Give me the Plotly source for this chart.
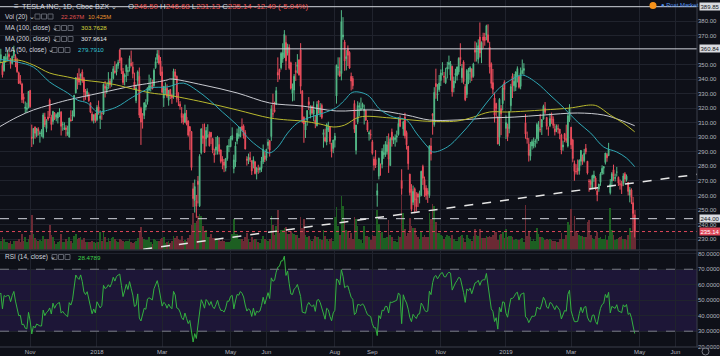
import numpy as np
import pandas as pd
import plotly.graph_objects as go

# ---------------- data (TSLA daily, Cboe BZX) ----------------
OPEN = [
 342.5,335.9,351.2,356.0,353.9,349.6,345.8,353.9,352.95,356.98,353.76,350.91,355.97,355.56,352.69,344.37,338.8,336.7,327.8,319.8,319.2,320.2,
 332.25,300.13,299.5,307.0,301.0,305.5,302.5,302.5,300.1,314.0,306.0,313.99,325.67,313.8,310.9,316.8,313.8,313.25,316.4,317.3,308.56,
 305.4,306.5,302.0,300.1,312.0,314.6,314.6,330.45,340.9,341.0,342.0,344.9,340.3,331.9,329.6,329.5,323.8,316.0,311.75,316.18,
 312.0,321.0,312.87,316.62,316.0,335.16,332.2,335.24,338.63,337.54,340.47,345.67,345.0,349.4,360.0,354.58,345.45,341.5,345.14,345.14,347.51,
 351.0,348.44,337.97,325.21,338.99,342.0,319.93,316.13,315.0,320.84,324.5,332.5,334.47,336.03,335.53,347.83,353.5,356.27,352.57,
 345.01,326.98,332.39,333.75,325.44,332.86,328.5,328.61,344.92,342.0,326.2,322.8,316.5,314.87,310.25,313.89,311.25,307.34,304.0,264.58,256.49,
 256.26,269.82,252.78,289.34,301.0,300.37,298.97,300.74,302.32,303.44,299.0,288.87,291.09,291.57,295.0,291.29,285.0,283.0,278.75,285.37,293.61,
 293.51,298.57,278.5,283.0,297.5,300.8,300.41,307.5,307.7,303.32,285.01,283.83,285.9,283.89,281.9,283.21,276.0,278.4,277.63,278.51,283.29,287.21,
 285.86,294.34,297.7,300.5,316.15,319.0,322.51,344.7,346.71,347.8,353.84,355.4,365.16,358.04,361.77,351.24,330.12,332.5,345.95,348.66,353.33,
 360.07,331.75,313.76,304.95,311.8,324.49,315.56,321.33,315.96,311.71,308.0,325.0,316.33,321.99,301.84,300.0,296.74,304.85,307.17,295.9,292.25,
 297.99,328.44,347.81,345.46,343.84,369.09,365.55,354.0,361.13,358.45,341.91,340.45,323.24,291.0,310.61,320.87,319.14,320.7,318.0,318.41,310.27,302.26,302.0,
 296.94,285.05,284.8,260.1,273.26,279.47,281.44,288.0,288.0,290.04,296.69,280.51,303.56,297.7,298.48,300.0,301.91,312.9,270.26,
 305.77,313.95,303.33,293.95,274.65,264.52,255.25,264.61,257.53,261.0,259.06,260.0,280.0,271.0,265.0,263.0,260.0,294.0,316.08,308.75,337.0,329.2,332.75,
 339.0,346.0,342.0,337.5,347.0,350.0,342.88,348.8,334.0,342.7,342.33,345.0,355.0,341.0,351.83,335.0,329.5,339.61,345.0,347.0,341.96,
 360.0,358.61,353.76,369.0,360.0,369.0,369.0,370.15,370.51,362.0,350.54,337.6,327.0,323.23,313.5,300.0,319.84,323.1,337.79,
 306.1,307.0,306.0,321.72,341.96,335.51,334.4,342.13,342.0,335.0,344.0,346.0,310.0,299.1,295.3,287.0,294.0,294.06,296.77,299.0,304.0,
 305.42,307.0,312.49,319.93,313.65,306.0,308.0,315.0,312.59,305.75,305.1,306.0,305.66,301.69,293.3,302.53,299.1,294.0,312.0,
 306.94,298.12,282.0,276.48,278.84,277.0,283.52,286.49,283.9,292.45,283.51,270.0,269.79,264.72,272.0,272.0,263.0,264.5,269.0,275.26,278.7,
 282.62,288.1,287.32,261.89,269.86,277.69,271.65,276.0,272.5,268.0,268.0,268.0,274.85,270.71,268.9,260.17,263.7,255.0,246.5]

HIGH = [
 343.0,349.0,358.6,357.4,360.9,351.8,355.5,357.6,359.8,358.5,354.5,356.2,363.0,357.1,354.6,345.2,342.8,337.5,330.2,324.6,323.8,331.9,
 332.6,308.7,306.25,307.5,306.5,306.9,304.5,305.6,316.8,316.9,312.5,318.1,326.67,315.5,318.2,317.4,316.4,317.3,320.0,318.0,310.7,
 310.3,308.3,308.0,313.4,318.6,318.5,329.0,341.4,344.1,347.4,343.9,346.7,341.5,333.2,333.7,330.9,323.9,317.7,315.8,316.4,
 322.1,325.25,318.55,317.24,337.02,338.8,337.0,344.81,340.41,345.0,349.0,352.3,350.59,353.33,360.5,354.75,347.7,344.0,349.98,348.27,356.19,
 359.66,351.95,344.47,336.22,346.0,348.0,320.98,316.5,324.19,326.17,334.12,343.12,340.84,339.69,347.44,354.99,359.99,359.99,355.24,
 348.67,335.22,337.75,336.37,332.5,333.3,329.89,347.21,347.0,342.5,331.0,324.8,320.75,316.25,322.44,318.82,311.61,307.59,304.27,268.68,270.96,
 260.33,273.35,288.37,306.26,309.28,309.5,307.1,308.98,303.95,303.45,299.66,292.17,300.24,301.0,300.0,291.62,287.0,285.0,285.75,294.47,298.73,
 300.82,306.85,288.04,296.86,305.98,307.75,307.01,312.99,308.88,304.94,286.96,288.81,289.96,284.0,286.87,283.5,279.26,281.11,279.64,286.5,295.0,290.37,
 291.95,299.0,297.8,322.17,330.0,324.48,334.66,354.97,347.2,358.75,364.67,373.73,370.0,364.36,363.88,352.0,337.0,343.5,351.75,357.2,353.35,
 364.78,332.49,314.39,311.44,318.53,327.68,321.99,321.91,324.71,315.16,324.74,325.5,323.54,323.24,305.5,305.91,309.62,310.7,307.68,296.1,298.32,
 303.0,349.99,355.0,354.98,387.46,382.64,367.01,360.0,363.19,359.2,344.5,342.14,325.49,308.5,324.79,323.88,327.32,323.85,322.44,318.88,311.85,304.6,305.31,
 298.19,286.78,291.17,268.35,286.03,282.0,292.5,295.0,297.33,300.87,302.64,300.0,305.98,300.58,302.0,304.6,313.89,314.96,278.0,
 311.44,316.84,304.6,294.0,274.88,267.76,266.77,265.51,262.25,261.99,263.28,277.0,281.15,272.98,267.0,265.0,294.5,299.5,316.53,334.45,347.19,336.58,342.87,
 346.7,351.66,345.0,347.8,351.93,356.2,352.5,349.25,341.77,347.11,348.58,355.0,364.69,350.42,352.98,336.72,347.0,347.75,348.84,347.49,351.26,
 366.0,365.2,367.38,379.0,365.98,371.91,371.83,377.44,377.74,365.7,351.55,347.01,330.72,323.8,314.5,326.97,322.17,336.24,339.21,
 315.13,309.4,318.0,336.74,344.01,343.5,345.39,348.8,342.0,348.0,353.5,350.95,315.98,303.91,299.46,296.85,298.56,299.84,299.0,310.0,311.1,
 316.0,312.5,322.43,324.24,314.0,307.48,316.5,316.99,314.4,309.3,308.83,308.89,305.67,302.41,297.67,303.0,308.69,316.0,322.77,
 307.13,299.0,284.0,281.51,284.7,284.86,291.28,288.07,291.99,295.39,283.72,271.22,271.0,274.26,277.0,273.25,264.72,268.0,275.95,280.75,280.16,
 289.2,289.3,296.17,271.2,276.1,281.16,275.0,279.6,273.0,270.93,269.98,275.29,276.0,274.44,269.3,265.76,264.84,259.0,246.68]

LOW = [
 334.0,332.5,347.0,351.4,351.0,341.1,345.1,351.3,352.6,353.0,347.2,350.1,354.4,348.2,344.3,336.8,336.2,323.6,323.2,316.7,317.3,320.0,
 320.3,293.3,295.1,299.0,300.0,301.2,296.3,300.4,299.1,307.0,303.5,311.3,313.2,304.75,308.7,311.8,311.0,309.5,313.9,301.2,304.5,
 305.05,300.6,301.0,300.0,311.0,311.3,313.75,330.2,333.0,336.0,335.8,337.5,324.97,325.8,327.6,324.4,316.6,310.8,309.5,310.0,
 311.0,315.55,305.68,312.0,315.5,327.4,330.0,333.26,333.67,334.8,339.75,343.74,342.6,347.15,351.0,343.52,336.0,335.71,338.0,342.17,345.19,
 348.63,340.51,333.0,323.5,335.66,313.3,294.76,306.0,312.51,318.52,322.5,331.64,331.5,333.0,334.75,347.1,351.0,350.01,342.22,
 330.07,320.89,329.3,327.03,321.74,326.28,323.0,326.5,339.72,324.0,321.5,319.0,309.67,308.76,310.19,308.18,300.45,291.36,277.18,252.1,248.21,
 244.59,254.49,252.0,288.2,295.5,289.21,293.68,299.66,293.68,295.34,289.01,282.51,288.0,288.1,288.15,282.0,278.0,276.0,276.5,283.83,289.76,
 293.22,297.78,275.23,279.52,295.17,299.0,300.05,304.11,299.08,291.62,280.5,281.56,283.0,274.1,278.6,274.5,271.0,274.89,275.61,276.15,281.6,282.93,
 283.84,291.85,286.74,297.48,313.58,317.0,322.5,338.0,339.8,346.6,351.25,354.5,346.25,356.25,346.5,332.8,324.72,325.17,338.79,343.9,342.41,
 329.85,309.69,296.22,299.52,308.0,318.77,313.03,315.59,311.0,306.25,307.5,316.25,314.01,312.5,292.86,296.48,294.5,303.58,295.26,286.13,289.07,
 293.0,323.16,342.53,341.82,339.15,367.12,345.73,346.0,349.02,347.1,332.2,333.0,303.0,288.2,309.0,314.67,318.1,319.4,308.81,311.19,303.69,297.72,298.6,
 288.0,277.18,278.88,252.25,271.0,273.55,278.65,285.18,286.52,288.13,275.5,280.5,293.58,295.37,293.58,296.5,301.11,306.91,260.55,
 301.05,299.15,291.57,277.67,260.0,249.0,253.3,247.77,249.03,252.01,254.54,259.41,267.2,259.0,257.0,254.85,258.3,284.0,301.8,307.28,326.5,325.0,331.25,
 335.25,342.5,337.5,336.6,340.5,346.81,339.0,327.95,330.9,337.15,339.04,343.1,349.0,337.5,336.51,324.87,327.01,336.55,337.48,338.66,341.0,
 352.0,352.08,350.75,354.87,351.0,361.29,363.0,366.75,364.9,343.88,333.69,329.74,310.17,314.0,295.2,294.09,301.5,318.41,325.26,
 298.8,297.38,302.73,317.75,327.02,331.47,331.79,337.7,333.5,333.0,343.44,343.0,299.0,295.58,283.3,284.0,291.5,292.4,293.0,295.62,297.5,
 303.41,301.56,312.25,316.0,305.3,301.03,307.0,309.28,306.13,301.26,303.51,302.58,298.65,288.35,290.7,296.65,296.24,293.0,310.56,
 291.9,282.78,270.1,274.39,274.25,274.3,280.5,281.06,282.7,288.29,274.39,262.5,264.0,264.26,269.34,263.5,256.0,262.51,266.6,274.0,274.5,
 281.28,283.2,287.17,260.59,266.11,270.0,269.6,273.0,266.51,264.0,261.0,266.4,268.81,269.51,260.0,255.21,254.0,244.2,231.13]

CLOSE = [
 341.53,348.14,355.01,355.33,356.88,342.94,355.59,354.60,355.68,355.57,350.60,355.75,359.65,351.81,345.10,337.02,337.34,325.84,326.17,320.87,320.08,331.53,
 321.08,299.26,306.09,302.78,306.05,304.39,302.99,302.99,315.40,308.70,311.30,312.50,315.05,308.74,317.81,312.60,315.55,316.81,317.55,307.54,308.85,
 306.53,305.20,303.70,313.26,311.24,315.13,328.91,341.03,339.03,337.89,343.45,338.87,331.10,328.98,331.66,325.20,317.29,311.64,315.36,311.35,
 320.53,317.25,314.62,316.58,336.41,333.69,334.80,337.95,336.22,340.06,347.16,344.57,350.02,351.56,352.79,345.89,337.64,342.85,349.53,345.82,354.31,
 349.25,343.75,333.13,333.97,345.00,315.23,310.42,315.73,323.66,322.31,334.07,335.49,334.77,333.30,346.17,352.05,357.42,350.99,343.06,
 330.93,335.12,333.35,328.20,332.30,329.10,327.17,345.51,341.84,326.63,325.60,321.35,313.56,310.55,316.53,309.10,301.54,304.18,279.18,257.78,266.13,
 252.48,267.53,286.94,305.72,299.30,289.66,304.70,300.93,294.08,300.34,291.21,287.69,293.35,300.08,290.24,283.37,283.46,280.69,285.48,294.08,293.90,
 299.92,301.15,284.45,294.09,302.77,301.97,306.85,305.02,301.06,291.97,284.18,286.48,284.54,276.82,284.49,275.01,279.07,277.85,278.85,283.76,291.72,284.73,
 291.82,296.74,291.13,319.50,316.09,317.66,332.10,342.77,344.78,357.72,358.17,370.83,352.55,362.22,347.51,333.63,333.01,342.00,344.50,349.93,342.95,
 335.07,310.86,309.16,308.90,318.51,322.47,318.96,316.71,318.87,310.10,322.69,323.85,320.23,313.58,303.20,297.43,308.74,306.65,297.18,290.17,298.14,
 300.84,349.54,348.17,341.99,379.57,370.34,352.45,355.49,356.41,347.64,338.69,335.45,305.50,308.44,321.90,321.64,320.10,322.82,319.27,311.86,305.01,303.15,301.66,
 288.95,280.74,280.95,263.24,285.50,279.44,290.54,289.46,295.20,294.84,284.96,299.02,298.33,299.10,299.68,300.99,309.58,307.52,264.77,
 310.70,301.02,294.80,281.83,261.95,250.56,262.80,256.88,252.23,258.78,259.59,276.59,271.78,263.91,260.00,260.95,294.14,288.50,314.86,330.90,334.85,329.90,337.32,
 344.28,346.41,341.40,341.06,348.16,351.40,350.51,331.28,338.73,344.00,348.44,354.31,353.47,347.49,338.19,325.83,346.00,343.92,347.87,341.17,350.48,
 358.49,359.70,363.06,357.97,365.15,366.76,366.60,376.79,365.71,348.42,337.03,332.97,315.38,319.77,295.39,326.09,316.13,333.87,332.80,
 310.12,300.36,317.69,334.96,335.35,338.53,344.97,347.26,334.40,344.43,346.05,347.31,302.26,298.92,287.59,291.51,297.04,296.38,297.46,308.77,307.02,
 305.40,312.21,321.35,317.22,307.51,305.80,312.84,311.81,308.17,303.77,307.88,305.64,302.56,291.23,294.71,298.77,297.86,314.74,319.88,
 294.79,285.36,276.54,276.24,276.59,284.14,290.92,283.36,288.96,289.96,275.43,269.49,267.47,273.60,274.02,264.53,260.42,267.77,274.82,278.62,279.86,
 289.18,285.88,291.81,267.78,274.96,273.20,272.31,276.06,268.42,267.70,266.38,273.36,271.23,273.26,262.75,263.90,258.66,247.63,235.14]

VOLUME_M = [
 5.3,10.2,8.2,4.6,4.8,7.1,6.0,4.5,4.0,3.6,5.0,3.3,4.9,5.0,4.9,5.7,4.5,8.6,5.0,6.9,4.2,5.7,
 8.4,19.8,8.9,6.5,5.3,4.7,5.4,4.6,7.6,5.7,6.0,5.8,13.7,8.2,7.3,4.9,3.2,4.5,4.9,8.8,4.4,
 4.3,5.8,4.6,7.2,4.8,3.5,7.5,8.7,6.1,6.8,7.0,5.5,6.8,4.2,4.4,4.2,4.3,4.7,4.3,3.8,
 4.4,4.5,9.9,4.6,9.9,7.1,4.3,6.6,4.8,6.5,7.1,6.1,4.9,4.0,5.8,5.3,5.0,4.0,4.8,4.7,6.2,
 4.2,3.7,4.0,5.1,6.8,10.0,12.9,6.9,5.7,5.3,5.6,7.3,4.0,3.2,5.7,5.6,5.0,4.8,6.1,
 6.5,7.3,3.8,4.3,4.7,3.9,5.0,7.9,6.3,7.5,6.0,5.5,7.4,4.9,5.4,4.7,6.6,8.4,13.9,21.0,15.2,
 16.1,18.9,19.9,19.0,13.5,10.3,11.0,7.0,7.1,8.9,6.3,6.5,6.5,6.1,5.6,5.0,6.0,4.7,4.3,4.4,4.1,
 4.6,8.9,17.4,8.6,8.7,5.7,5.7,5.7,4.7,7.3,9.5,5.7,4.4,7.3,5.6,5.8,6.0,4.2,3.9,5.7,7.5,5.9,
 5.4,4.8,5.9,18.8,14.2,8.5,13.2,22.4,9.5,10.9,10.9,12.1,12.6,8.9,9.0,10.3,9.2,9.0,8.3,8.1,6.5,
 18.7,12.3,17.5,8.2,6.9,7.7,5.3,4.9,5.9,7.8,6.9,6.9,5.9,5.2,10.9,7.5,6.0,4.6,5.7,6.6,5.0,
 18.6,24.3,13.6,8.4,30.6,24.8,17.2,11.2,10.5,6.6,9.1,5.8,18.2,17.4,13.1,5.9,5.2,3.6,13.1,7.8,7.4,7.2,5.3,
 8.4,7.5,7.5,22.5,14.3,9.2,10.0,6.3,6.8,6.9,16.5,8.3,7.3,5.0,4.8,4.5,7.8,7.0,33.6,
 21.0,11.7,7.9,9.2,17.9,13.4,12.0,12.5,8.2,7.2,6.2,10.1,7.3,8.0,7.2,7.1,21.0,17.4,26.0,24.5,15.9,9.1,9.5,
 8.2,7.8,6.1,7.3,8.2,7.9,6.8,8.0,6.0,5.0,4.8,7.1,7.9,8.0,6.8,4.3,8.1,6.6,6.0,5.0,7.5,
 11.6,8.5,7.8,11.5,6.6,6.3,6.5,7.4,7.0,7.7,7.1,8.3,10.3,10.0,5.6,8.2,8.6,9.9,6.3,
 11.7,7.0,7.4,7.6,7.0,5.4,6.0,5.6,5.2,6.0,6.3,4.0,25.4,7.6,10.4,7.0,5.1,6.0,5.1,12.2,9.0,
 6.9,7.0,6.7,5.2,6.0,5.3,6.1,5.2,4.6,5.1,4.0,4.2,6.0,9.1,6.2,5.8,8.0,15.5,13.8,
 22.9,7.5,18.8,10.3,9.4,8.3,7.4,7.5,6.9,7.0,15.5,16.6,8.1,6.8,6.0,7.5,10.2,6.4,7.1,6.1,5.8,
 8.1,5.5,7.9,23.7,11.0,8.4,5.4,6.2,6.6,7.3,7.5,6.0,5.7,5.4,8.3,12.2,10.5,21.8,22.267]

# closes before the first visible bar (Aug-Sep 2017), used only to warm up RSI(14)
PRE_CLOSE = [319.57,325.89,347.09,356.91,355.17,365.22,363.53,355.40,357.87,363.80,362.33,362.91,351.92,347.46,
             337.86,341.35,352.77,352.93,348.05,345.66,347.36,353.18,355.90,
             355.40,349.59,344.53,350.61,343.40,363.69,362.75,366.23,377.64,379.81,385.00,375.10,373.91,366.48,
             351.09,344.99,345.25,340.97,339.60,341.10]

# moving averages (bar index, value)
MA50_BAR = [3,14,24,34,45,51,57,63,65,75,85,96,106,116,124,132,140,149,157,165,169,174,180,186,194,202,210,215,220,229,
            237,245,253,259,266,269,278,286,294,302,310,318,324,333,341,349,358,366,374,382,388,393]
MA50_VAL = [353.6,351.8,348.3,338.0,330.5,325.6,323.6,317.4,317.4,320.8,327.7,333.9,334.6,337.3,332.5,325.6,317.4,308.4,
            298.1,291.2,289.2,293.3,302.9,309.8,313.9,316.7,320.5,325.6,331.0,329.1,318.8,313.9,311.9,302.9,293.3,289.9,
            293.3,301.6,311.9,323.6,333.9,340.1,342.8,337.3,329.1,320.8,310.5,302.9,293.3,289.9,285.7,279.79]
MA100_BAR = [3,14,24,34,45,54,65,75,85,96,106,128,149,169,180,189,200,208,215,224,243,263,284,294,304,315,337,353,366,370,378,386,393]
MA100_VAL = [351.1,353.2,349.7,344.2,341.5,339.4,338.0,336.0,333.2,330.5,329.1,324.3,318.8,313.3,311.9,311.2,309.1,307.1,
             308.4,313.9,313.3,311.2,311.2,313.9,317.4,317.4,318.8,320.1,322.2,321.5,315.3,309.8,303.76]
MA200_BAR = [3,14,24,34,45,65,85,96,106,108,128,149,169,189,210,232,253,267,284,304,319,337,358,374,384,393]
MA200_VAL = [307.1,313.9,318.8,322.2,325.6,330.5,335.3,337.3,339.4,340.1,336.0,330.5,323.6,321.5,318.1,318.8,315.3,
             311.9,311.9,313.3,313.9,315.3,316.7,315.3,311.9,307.96]

HOLIDAYS = ["2017-11-23","2017-12-25","2018-01-01","2018-01-15","2018-02-19","2018-03-30","2018-05-28",
            "2018-07-04","2018-09-03","2018-11-22","2018-12-05","2018-12-25","2019-01-01","2019-01-21",
            "2019-02-18","2019-04-19","2019-05-27"]
TICK_MONTHS = ["2017-11","2018-01","2018-03","2018-05","2018-06","2018-08","2018-09","2018-11",
               "2019-01","2019-03","2019-05","2019-06"]
TICK_TEXT = ["Nov","2018","Mar","May","Jun","Aug","Sep","Nov","2019","Mar","May","Jun"]
PRICE_TICKS = [230,240,250,260,270,280,290,300,310,320,330,340,350,370,380]
RSI_TICKS = [20,30,40,50,60,70,80]

LEVELS = [389.85, 360.84, 244.00]
LAST_PRICE = 235.14
TREND = [(91.4, 223.0), (431.2, 274.5)]

# ---------------- derived ----------------
days = [d for d in pd.bdate_range("2017-10-02", "2019-06-28") if d.strftime("%Y-%m-%d") not in HOLIDAYS]
n = len(CLOSE)
idx = list(range(n))
tickvals = []
for m in TICK_MONTHS:
    tickvals.append(next(i for i, d in enumerate(days) if d.strftime("%Y-%m") == m))

allc = np.array(PRE_CLOSE + CLOSE, dtype=float)
d = np.diff(allc)
up = np.clip(d, 0, None)
dn = np.clip(-d, 0, None)
L = 14
au = np.full(len(d), np.nan)
ad = np.full(len(d), np.nan)
au[L - 1] = up[:L].mean()
ad[L - 1] = dn[:L].mean()
for i in range(L, len(d)):
    au[i] = (au[i - 1] * (L - 1) + up[i]) / L
    ad[i] = (ad[i - 1] * (L - 1) + dn[i]) / L
rsi = 100 - 100 / (1 + au / ad)
rsi_full = np.concatenate([[np.nan], rsi])
RSI = rsi_full[len(PRE_CLOSE):]

# ---------------- style / geometry ----------------
BG = "#0e1018"
GRID = "#20232d"
TXT = "#b2b5be"
UP = "#53b987"
DN = "#eb4d5c"
W_PLOT, H_PLOT = 697.0, 347.0
PXBAR = 1.6295
XR = [3.5, 3.5 + W_PLOT / PXBAR]


def px(x):
    return x / W_PLOT


def py(y):
    return 1 - y / H_PLOT


fig = go.Figure()

vol_colors = ["#1d5f22" if c >= o else "#6b2a34" for o, c in zip(OPEN, CLOSE)]
fig.add_trace(go.Bar(x=idx, y=VOLUME_M, marker=dict(color=vol_colors, line=dict(width=0)),
                     width=1.0, xaxis="x2", yaxis="y2", hoverinfo="skip"))

fig.add_trace(go.Candlestick(x=idx, open=OPEN, high=HIGH, low=LOW, close=CLOSE,
                             increasing=dict(line=dict(color=UP, width=1), fillcolor=UP),
                             decreasing=dict(line=dict(color=DN, width=1), fillcolor=DN),
                             whiskerwidth=0, xaxis="x2", yaxis="y3"))

fig.add_trace(go.Scatter(x=MA200_BAR, y=MA200_VAL, mode="lines", line=dict(color="#c9cbd1", width=1),
                         line_shape="spline", xaxis="x2", yaxis="y3"))
fig.add_trace(go.Scatter(x=MA100_BAR, y=MA100_VAL, mode="lines", line=dict(color="#b9b92e", width=1),
                         line_shape="spline", xaxis="x2", yaxis="y3"))
fig.add_trace(go.Scatter(x=MA50_BAR, y=MA50_VAL, mode="lines", line=dict(color="#2fa7b4", width=1),
                         line_shape="spline", xaxis="x2", yaxis="y3"))

fig.add_trace(go.Scatter(x=idx, y=RSI, mode="lines", line=dict(color="#33b140", width=1), xaxis="x", yaxis="y"))

shapes = []
# RSI band
shapes.append(dict(type="rect", xref="paper", yref="y", x0=0, x1=1, y0=30, y1=70,
                   fillcolor="rgba(100,50,200,0.18)", line=dict(width=0), layer="below"))
for lv in (30, 70):
    shapes.append(dict(type="line", xref="paper", yref="y", x0=0, x1=1, y0=lv, y1=lv,
                       line=dict(color="#787b86", width=1, dash="dash")))
# horizontal price levels
shapes.append(dict(type="line", xref="paper", yref="y3", x0=0, x1=1, y0=LEVELS[0], y1=LEVELS[0],
                   line=dict(color="#d1d4dc", width=1)))
shapes.append(dict(type="line", xref="x2", yref="y3", x0=77, x1=XR[1], y0=LEVELS[1], y1=LEVELS[1],
                   line=dict(color="#d1d4dc", width=1)))
shapes.append(dict(type="line", xref="paper", yref="y3", x0=0, x1=1, y0=LEVELS[2], y1=LEVELS[2],
                   line=dict(color="#d1d4dc", width=1, dash="dash")))
shapes.append(dict(type="line", xref="paper", yref="y3", x0=0, x1=1, y0=LAST_PRICE, y1=LAST_PRICE,
                   line=dict(color="#e0485a", width=1, dash="dot")))
shapes.append(dict(type="line", xref="x2", yref="y3", x0=TREND[0][0], y0=TREND[0][1], x1=TREND[1][0], y1=TREND[1][1],
                   line=dict(color="#e6e6e6", width=1.5, dash="dash")))
# pane separator, right border, bottom line
shapes.append(dict(type="line", xref="paper", yref="paper", x0=0, x1=1.04, y0=py(250), y1=py(250),
                   line=dict(color="#3a3e4a", width=1)))
shapes.append(dict(type="line", xref="paper", yref="paper", x0=1, x1=1, y0=0, y1=1,
                   line=dict(color="#3a3e4a", width=1)))
shapes.append(dict(type="line", xref="paper", yref="paper", x0=0, x1=1.04, y0=0, y1=0,
                   line=dict(color="#3a3e4a", width=1)))
# legend icon boxes
for (x0, yc) in [(35, 16.5), (55, 28), (55, 39), (52, 50), (52, 257)]:
    for k in range(3):
        shapes.append(dict(type="rect", xref="paper", yref="paper",
                           x0=px(x0 + 6.5 * k), x1=px(x0 + 6.5 * k + 5), y0=py(yc + 2.5), y1=py(yc - 2.5),
                           line=dict(color="#5d606b", width=1)))
# post-market badge
shapes.append(dict(type="circle", xref="paper", yref="paper", x0=px(649.5), x1=px(656.5), y0=py(9), y1=py(2),
                   fillcolor="#f7931a", line=dict(width=0)))
shapes.append(dict(type="circle", xref="paper", yref="paper", x0=px(702), x1=px(709), y0=py(355), y1=py(348),
                   line=dict(color="#787b86", width=1)))

ann = []


def A(x, y, text, size=8, color=TXT, anchor="left"):
    ann.append(dict(x=px(x), y=py(y), xref="paper", yref="paper", text=text, showarrow=False,
                    xanchor=anchor, yanchor="middle", font=dict(size=size, color=color)))


RED = "#ef5350"
A(12, 6.5, "≡", 8, "#d1d4dc")
A(20, 6.5, "TESLA INC, 1D, Cboe BZX ⌄", 7.2, "#d1d4dc")
A(126, 6.5, ("O<span style='color:%s'>246.50</span> H<span style='color:%s'>246.68</span> "
             "L<span style='color:%s'>231.13</span> C<span style='color:%s'>235.14</span> "
             "<span style='color:%s'>-12.49 (-5.04%%)</span>") % (RED, RED, RED, RED, RED), 7.8, "#d1d4dc")
A(3, 16.5, "Vol (20) ⌄", 6.5, "#d1d4dc")
A(59, 16.5, "22.267M", 6, "#e0504f")
A(86, 16.5, "10.425M", 6, "#e8912d")
A(3, 28, "MA (100, close) ⌄", 6.5, "#d1d4dc")
A(79, 28, "303.7628", 6.2, "#d5d43a")
A(3, 39, "MA (200, close) ⌄", 6.5, "#d1d4dc")
A(79, 39, "307.9614", 6.2, "#e6e6e6")
A(3, 50, "MA (50, close) ⌄", 6.5, "#d1d4dc")
A(76, 50, "279.7910", 6.2, "#33c3d1")
A(3, 257, "RSI (14, close) ⌄", 6.5, "#d1d4dc")
A(76, 257, "28.4789", 6.2, "#3fd24a")
A(659, 5.5, "● Post Market", 6, "#4f8fe8")

for val, bg, fg in [(LEVELS[0], "#d9dbe0", "#131722"), (LEVELS[1], "#d9dbe0", "#131722"),
                    (LEVELS[2], "#d9dbe0", "#131722"), (LAST_PRICE, "#e0485a", "#ffffff")]:
    ann.append(dict(x=px(698.5), y=val, xref="paper", yref="y3", text="%.2f" % val, showarrow=False,
                    xanchor="left", yanchor="middle", bgcolor=bg, borderpad=0.5,
                    font=dict(size=6, color=fg)))

fig.update_layout(
    width=720, height=356,
    margin=dict(l=0, r=23, t=0, b=9, autoexpand=False),
    paper_bgcolor=BG, plot_bgcolor=BG,
    showlegend=False, bargap=0,
    font=dict(family="Liberation Sans, Arial, sans-serif", size=7, color=TXT),
    xaxis=dict(domain=[0, 1], anchor="y", range=XR, tickmode="array", tickvals=tickvals, ticktext=TICK_TEXT,
               showgrid=True, gridcolor=GRID, gridwidth=1, zeroline=False, showline=False, ticks="",
               tickfont=dict(size=6, color=TXT), rangeslider=dict(visible=False)),
    xaxis2=dict(domain=[0, 1], anchor="y2", matches="x", tickmode="array", tickvals=tickvals,
                showticklabels=False, showgrid=True, gridcolor=GRID, gridwidth=1, zeroline=False,
                ticks="", rangeslider=dict(visible=False)),
    yaxis=dict(domain=[0, py(250.5)], range=[19.8, 82.1], side="right", tickmode="array",
               tickvals=RSI_TICKS, tickformat=".4f", gridcolor=GRID, zeroline=False,
               ticks="", tickfont=dict(size=6, color=TXT)),
    yaxis2=dict(domain=[py(249.5), 1], range=[0, 141.8], visible=False, anchor="x2"),
    yaxis3=dict(overlaying="y2", anchor="x2", range=[222.8, 394.45], side="right", tickmode="array",
                tickvals=PRICE_TICKS, tickformat=".2f", gridcolor=GRID, zeroline=False, ticks="",
                tickfont=dict(size=6, color=TXT)),
    shapes=shapes, annotations=ann,
)

fig.write_html("out.html", config={"displayModeBar": False, "staticPlot": True},
               post_script="document.body.style.margin='0px';document.body.style.overflow='hidden';")
